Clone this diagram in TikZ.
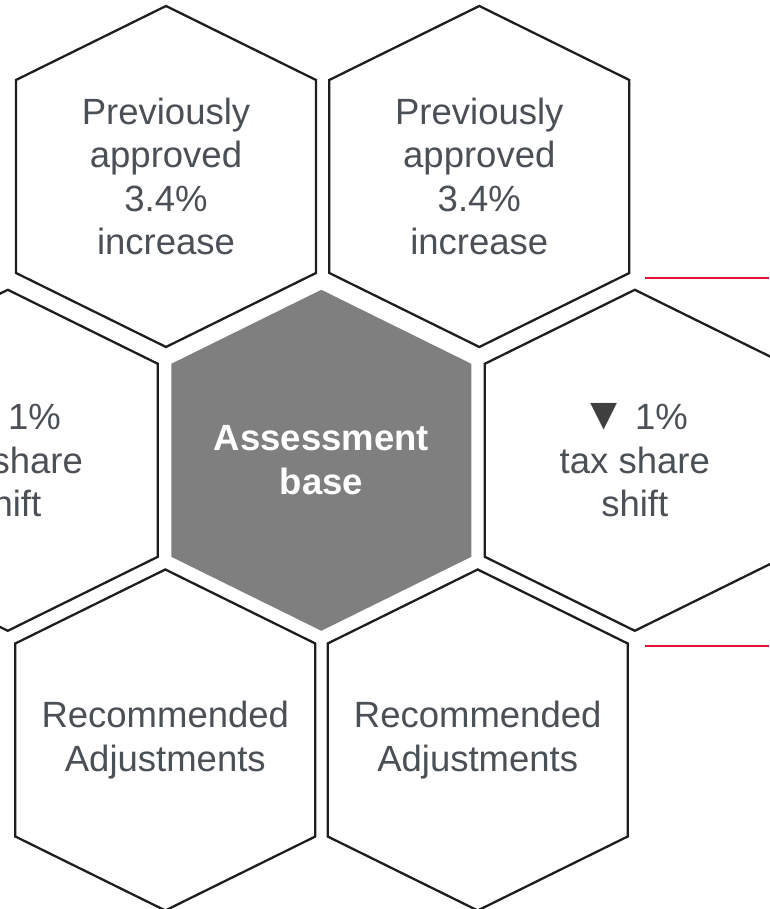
\documentclass[tikz,border=0pt]{standalone}
\usepackage{fontspec}
\setmainfont{Liberation Sans}
\usetikzlibrary{
  backgrounds,
  positioning,
}
\definecolor{hexgrey}{RGB}{127,127,127}
\definecolor{hexedge}{RGB}{30,30,30}
\definecolor{textgrey}{RGB}{75,79,86}
\definecolor{triangledark}{RGB}{64,64,64}
\definecolor{accentred}{RGB}{225,20,55}
\tikzstyle{hexoutline} = [draw=hexedge, line width=2.3pt, fill=white]
\tikzstyle{hexfilled} = [fill=hexgrey]
\tikzstyle{celltext} = [
  align=center,
  inner sep=0pt,
  text=textgrey,
  font=\fontsize{36.5}{43.5}\selectfont,
]
\tikzstyle{redrule} = [draw=accentred, line width=2pt]
\tikzset{
  pics/hexcell/.style={
    code={\path[#1] (0,170.5) -- (150,96.5) -- (150,-96.5) -- (0,-170.5) -- (-150,-96.5) -- (-150,96.5) -- cycle;}
  },
}
\newcommand{\downmark}{\textcolor{triangledark}{\scalebox{1.25}{▼}}\hspace{8pt}}

\begin{document}
\begin{tikzpicture}[x=1pt, y=1pt, node distance=283.8pt and 313.5pt, on grid]

      \useasboundingbox (0,0) rectangle (769,909);
      \clip (0,0) rectangle (769,909);

      % centre row
      \node[celltext, text=white, font=\fontsize{36.5}{43.5}\selectfont\bfseries] (base) at (321.3,448.7) {Assessment\\base};
      \node[celltext] (shiftr) [right=of base] {\downmark 1\%\\tax share\\shift};
      \node[celltext] (shiftl) [left=of base] {\downmark 1\%\\tax share\\shift};

      % top and bottom rows
      \node[celltext] (prevl) [above left=283.8pt and 155.3pt of base] {Previously\\approved\\3.4\%\\increase};
      \node[celltext] (prevr) [above right=283.8pt and 158pt of base] {Previously\\approved\\3.4\%\\increase};
      \node[celltext] (recl) [below left=279.7pt and 156pt of base] {Recommended\\Adjustments};
      \node[celltext] (recr) [below right=279.7pt and 156.4pt of base] {Recommended\\Adjustments};

      \begin{scope}[on background layer]
        \pic at (base) {hexcell=hexfilled};
        \foreach \cell in {shiftl,shiftr,prevl,prevr,recl,recr}
          \pic at (\cell) {hexcell=hexoutline};
      \end{scope}

      % red rules on the right
      \coordinate (ruletopa) at (645,631.3);
      \coordinate (ruletopb) at (769,631.3);
      \coordinate (rulebota) at (645,263.3);
      \coordinate (rulebotb) at (769,263.3);
      \draw[redrule] (ruletopa) -- (ruletopb);
      \draw[redrule] (rulebota) -- (rulebotb);

    \end{tikzpicture}
\end{document}
